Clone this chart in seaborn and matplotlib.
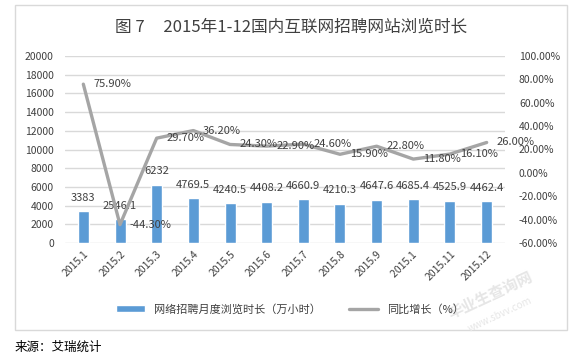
import matplotlib
matplotlib.use("Agg")
import matplotlib.pyplot as plt
import seaborn as sns
import numpy as np
import pandas as pd
from matplotlib.patches import Rectangle
from matplotlib.ticker import FuncFormatter

# data
months = ["2015.1", "2015.2", "2015.3", "2015.4", "2015.5", "2015.6",
          "2015.7", "2015.8", "2015.9", "2015.1 ", "2015.11", "2015.12"]
hours = [3383, 2546.1, 6232, 4769.5, 4240.5, 4408.2,
         4660.9, 4210.3, 4647.6, 4685.4, 4525.9, 4462.4]
growth = [75.9, -44.3, 29.7, 36.2, 24.3, 22.9,
          24.6, 15.9, 22.8, 11.8, 16.1, 26.0]
hour_labels = ["3383", "2546.1", "6232", "4769.5", "4240.5", "4408.2",
               "4660.9", "4210.3", "4647.6", "4685.4", "4525.9", "4462.4"]

sns.set_style("white")
plt.rcParams["font.family"] = ["Noto Sans CJK SC", "DejaVu Sans"]

BAR = "#5B9BD5"
LINE = "#A5A5A5"
TXT = "#404040"

df = pd.DataFrame({"month": months, "hours": hours, "growth": growth})

fig = plt.figure(figsize=(5.82, 3.55), dpi=100)
ax = fig.add_axes([65 / 582, 1 - 243 / 355, 440 / 582, 187 / 355])

# outer frame
fig.patches.append(Rectangle((15 / 582, 1 - 330 / 355), 552 / 582, 325 / 355,
                             transform=fig.transFigure, fill=False,
                             edgecolor="#D9D9D9", linewidth=1))

sns.barplot(data=df, x="month", y="hours", color=BAR, width=0.3,
            saturation=1, ax=ax, label="网络招聘月度浏览时长（万小时）")
if ax.get_legend() is not None:
    ax.get_legend().remove()
ax.set_ylim(0, 20000)
ax.set_yticks(np.arange(0, 20001, 2000))
ax.yaxis.grid(True, color="#D9D9D9", linewidth=1)
ax.set_axisbelow(True)
for s in ax.spines.values():
    s.set_visible(False)
ax.set_xlabel("")
ax.set_ylabel("")
ax.tick_params(axis="y", labelsize=7.5, colors=TXT, length=0, pad=8)
ax.tick_params(axis="x", labelsize=7.5, colors=TXT, length=0, pad=4)
ax.set_xticks(range(len(months)))
ax.set_xticklabels(months, rotation=45, ha="right", rotation_mode="anchor")
ax.set_xlim(-0.5, len(months) - 0.5)

for i, (v, lab) in enumerate(zip(hours, hour_labels)):
    ax.annotate(lab, (i, v), xytext=(0, 6), textcoords="offset points",
                ha="center", va="bottom", fontsize=8, color=TXT)

ax2 = ax.twinx()
sns.lineplot(x=np.arange(len(months)), y=growth, ax=ax2, color=LINE,
             linewidth=2.4, label="同比增长（%）", legend=False)
ax2.set_ylim(-60, 100)
ax2.set_yticks(np.arange(-60, 101, 20))
ax2.yaxis.set_major_formatter(FuncFormatter(lambda v, p: f"{v:.2f}%"))
ax2.tick_params(axis="y", labelsize=7.5, colors=TXT, length=0, pad=10)
for s in ax2.spines.values():
    s.set_visible(False)
ax2.set_xlim(-0.5, len(months) - 0.5)

for i, g in enumerate(growth):
    ax2.annotate(f"{g:.2f}%", (i, g), xytext=(7, 0), textcoords="offset points",
                 ha="left", va="center", fontsize=8, color=TXT)

fig.text(0.5, 1 - 27 / 355, "图 7     2015年1-12国内互联网招聘网站浏览时长",
         ha="center", va="center", fontsize=12, color=TXT)

h1, l1 = ax.get_legend_handles_labels()
h2, l2 = ax2.get_legend_handles_labels()
fig.legend(h1 + h2, l1 + l2, loc="center", bbox_to_anchor=(290 / 582, 1 - 309 / 355),
           ncol=2, frameon=False, fontsize=8, handlelength=2.6, columnspacing=2.5,
           labelcolor=TXT, handleheight=0.5)

fig.text(15 / 582, 1 - 347 / 355, "来源：艾瑞统计", ha="left", va="center",
         fontsize=9, color="black")

# watermark
fig.text(490 / 582, 1 - 295 / 355, "毕业生查询网", rotation=25, ha="center",
         va="center", fontsize=11, color="#E6E6E6", fontweight="bold")
fig.text(500 / 582, 1 - 315 / 355, "www.sbvv.com", rotation=25, ha="center",
         va="center", fontsize=7, color="#E6E6E6")

fig.savefig("out.png", dpi=100)
